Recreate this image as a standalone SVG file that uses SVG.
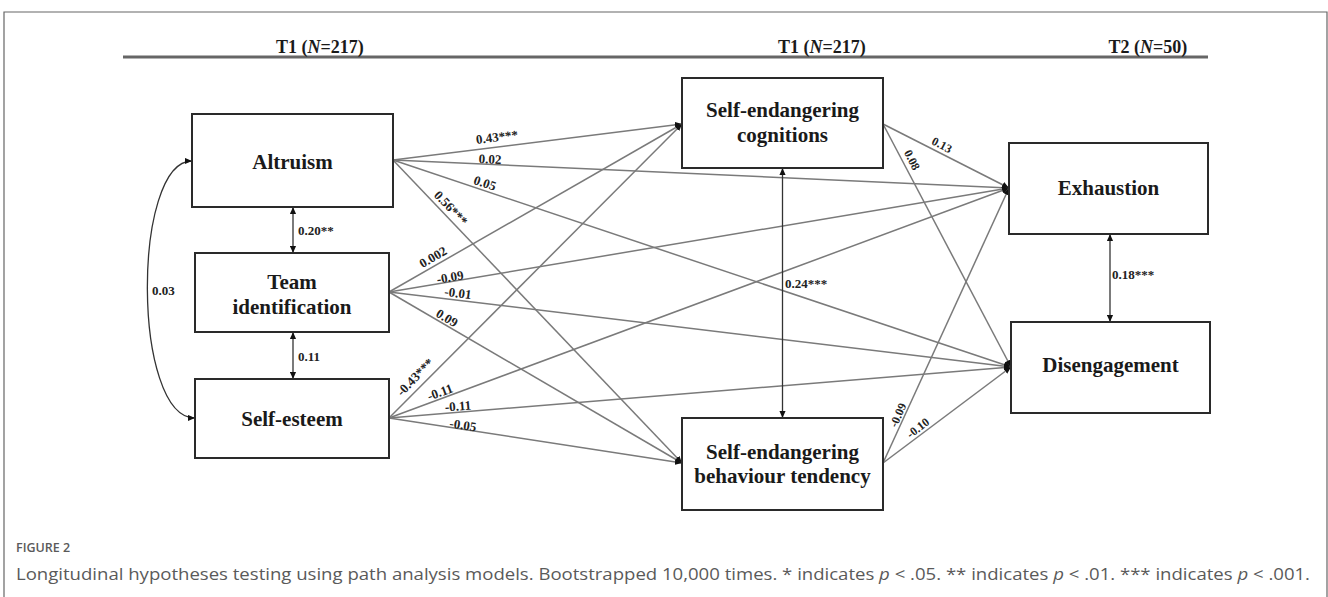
<svg xmlns="http://www.w3.org/2000/svg" width="1328" height="597" viewBox="0 0 1328 597">
<style>
.box{fill:#fff;stroke:#2a2a2a;stroke-width:2}
.bt{font-family:"Liberation Serif","Times New Roman",serif;font-weight:bold;font-size:21px;fill:#1a1a1a;text-anchor:middle}
.hd{font-family:"Liberation Serif","Times New Roman",serif;font-weight:bold;font-size:18px;fill:#1a1a1a;text-anchor:middle}
.el{font-family:"Liberation Serif","Times New Roman",serif;font-weight:bold;font-size:13px;fill:#222;text-anchor:middle}
.es{font-family:"Liberation Serif","Times New Roman",serif;font-weight:bold;font-size:12px;fill:#222;text-anchor:middle}
.vl{font-family:"Liberation Serif","Times New Roman",serif;font-weight:bold;font-size:13px;fill:#222}
.cn{stroke:#7a7a7a;stroke-width:1.5;fill:none;marker-end:url(#dot)}
.dv{stroke:#333;stroke-width:1.3;fill:none;marker-start:url(#tri);marker-end:url(#tri)}
.cap{font-family:"Open Sans","Noto Sans",sans-serif;fill:#5a5a5a}
</style>
<defs>
<marker id="dot" viewBox="0 0 8 8" refX="8" refY="4" markerWidth="7" markerHeight="7" markerUnits="userSpaceOnUse" orient="auto">
<path d="M0,0.5 L8,4 L0,7.5 Z" fill="#111"/>
</marker>
<marker id="tri" viewBox="0 0 8 8" refX="8" refY="4" markerWidth="7" markerHeight="7" markerUnits="userSpaceOnUse" orient="auto-start-reverse">
<path d="M0,0.5 L8,4 L0,7.5 Z" fill="#111"/>
</marker>
</defs>
<rect width="1328" height="597" fill="#fff"/>
<path d="M4,597 V12 H1327 V597" fill="none" stroke="#666" stroke-width="1.2"/>

<g id="header">
<line x1="123" y1="57" x2="1208" y2="57" stroke="#666" stroke-width="3"/>
<text class="hd" x="320" y="53">T1 (<tspan font-style="italic">N</tspan>=217)</text>
<text class="hd" x="822" y="53">T1 (<tspan font-style="italic">N</tspan>=217)</text>
<text class="hd" x="1148" y="53">T2 (<tspan font-style="italic">N</tspan>=50)</text>
</g>

<g id="connectors">
<line class="cn" x1="393" y1="160" x2="682" y2="124"/>
<line class="cn" x1="393" y1="160" x2="1009" y2="188"/>
<line class="cn" x1="393" y1="160" x2="1011" y2="367"/>
<line class="cn" x1="393" y1="160" x2="682" y2="463"/>
<line class="cn" x1="389" y1="292" x2="682" y2="124"/>
<line class="cn" x1="389" y1="292" x2="1009" y2="188"/>
<line class="cn" x1="389" y1="292" x2="1011" y2="367"/>
<line class="cn" x1="389" y1="292" x2="682" y2="463"/>
<line class="cn" x1="389" y1="418" x2="682" y2="124"/>
<line class="cn" x1="389" y1="418" x2="1009" y2="188"/>
<line class="cn" x1="389" y1="418" x2="1011" y2="367"/>
<line class="cn" x1="389" y1="418" x2="682" y2="463"/>
<line class="cn" x1="883" y1="124" x2="1009" y2="188"/>
<line class="cn" x1="883" y1="124" x2="1011" y2="367"/>
<line class="cn" x1="883" y1="463" x2="1009" y2="188"/>
<line class="cn" x1="883" y1="463" x2="1011" y2="367"/>
<line class="dv" x1="293" y1="207" x2="293" y2="253"/>
<line class="dv" x1="293" y1="332" x2="293" y2="379"/>
<line class="dv" x1="782.5" y1="168" x2="782.5" y2="418"/>
<line class="dv" x1="1110" y1="234" x2="1110" y2="322"/>
<path class="dv" d="M192,161 C132,161 132,418 195,418"/>

<text class="el" transform="translate(497,137) rotate(-7)" y="4.5">0.43***</text>
<text class="el" transform="translate(490,159) rotate(2.6)" y="4.5">0.02</text>
<text class="el" transform="translate(485,183) rotate(18.6)" y="4.5">0.05</text>
<text class="el" transform="translate(451,208) rotate(46.7)" y="4.5">0.56***</text>
<text class="el" transform="translate(433,257) rotate(-30)" y="4.5">0.002</text>
<text class="el" transform="translate(450,277) rotate(-9.6)" y="4.5">-0.09</text>
<text class="el" transform="translate(458,293) rotate(6.9)" y="4.5">-0.01</text>
<text class="el" transform="translate(447,318) rotate(30.5)" y="4.5">0.09</text>
<text class="el" transform="translate(415,377) rotate(-45.6)" y="4.5">-0.43***</text>
<text class="el" transform="translate(440,392) rotate(-20.5)" y="4.5">-0.11</text>
<text class="el" transform="translate(458,406) rotate(-4.7)" y="4.5">-0.11</text>
<text class="el" transform="translate(463,425) rotate(8.7)" y="4.5">-0.05</text>
<text class="es" transform="translate(942,145) rotate(27.7)" y="4">0.13</text>
<text class="es" transform="translate(912,160) rotate(63)" y="4">0.08</text>
<text class="es" transform="translate(898,415) rotate(-66)" y="4">-0.09</text>
<text class="es" transform="translate(918,428) rotate(-37.7)" y="4">-0.10</text>
<text class="vl" x="298" y="235">0.20**</text>
<text class="vl" x="298" y="361">0.11</text>
<text class="vl" x="785" y="288">0.24***</text>
<text class="vl" x="1112" y="279">0.18***</text>
<text class="vl" x="152" y="295">0.03</text>
</g>

<g id="altruism">
<rect class="box" x="192" y="114" width="201" height="93"/>
<text class="bt" x="292.5" y="169">Altruism</text>
</g>
<g id="team-identification">
<rect class="box" x="195" y="253" width="194" height="79"/>
<text class="bt" x="292" y="289">Team</text>
<text class="bt" x="292" y="314">identification</text>
</g>
<g id="self-esteem">
<rect class="box" x="195" y="379" width="194" height="79"/>
<text class="bt" x="292" y="426">Self-esteem</text>
</g>
<g id="self-endangering-cognitions">
<rect class="box" x="682" y="78" width="201" height="90"/>
<text class="bt" x="782.5" y="117">Self-endangering</text>
<text class="bt" x="782.5" y="141.5">cognitions</text>
</g>
<g id="self-endangering-behaviour">
<rect class="box" x="682" y="418" width="201" height="92"/>
<text class="bt" x="782.5" y="459">Self-endangering</text>
<text class="bt" x="782.5" y="483">behaviour tendency</text>
</g>
<g id="exhaustion">
<rect class="box" x="1009" y="143" width="199" height="91"/>
<text class="bt" x="1108.5" y="195">Exhaustion</text>
</g>
<g id="disengagement">
<rect class="box" x="1011" y="322" width="199" height="91"/>
<text class="bt" x="1110.5" y="372">Disengagement</text>
</g>

<g id="caption">
<text class="cap" x="16" y="552" font-size="12.5" font-weight="600" fill="#666">FIGURE 2</text>
<text class="cap" x="16" y="580" font-size="16" textLength="1294" lengthAdjust="spacingAndGlyphs">Longitudinal hypotheses testing using path analysis models. Bootstrapped 10,000 times. * indicates <tspan font-style="italic">p</tspan> &lt; .05. ** indicates <tspan font-style="italic">p</tspan> &lt; .01. *** indicates <tspan font-style="italic">p</tspan> &lt; .001.</text>
</g>
</svg>
